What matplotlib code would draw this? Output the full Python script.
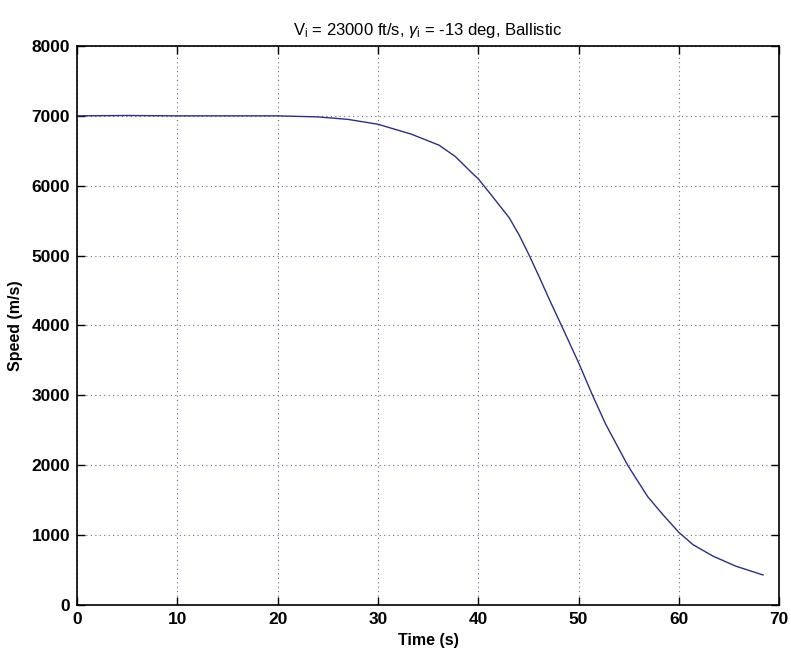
import matplotlib
matplotlib.use("Agg")
import matplotlib.pyplot as plt

plt.rcParams['font.family'] = ['Liberation Sans', 'DejaVu Sans']
plt.rcParams['mathtext.fontset'] = 'custom'
plt.rcParams['mathtext.rm'] = 'Liberation Sans'
plt.rcParams['mathtext.it'] = 'Liberation Sans:italic'

# speed vs time
time_s = [0, 5, 10, 15, 20, 24, 27, 30, 33.3, 36.1, 37.7, 39.4, 40, 41.4,
          43.1, 44.1, 45.1, 46.1, 47.1, 48.3, 50, 51.4, 52.7, 54.9, 56.9,
          58.4, 60, 61.4, 63.4, 65.7, 68.4]
speed = [7000, 7005, 7000, 7000, 7000, 6985, 6950, 6880, 6740, 6580, 6420,
         6180, 6100, 5850, 5540, 5290, 5000, 4690, 4370, 4000, 3470, 3000,
         2590, 2000, 1550, 1295, 1040, 865, 700, 555, 430]

xticks = [0, 10, 20, 30, 40, 50, 60, 70]
yticks = [0, 1000, 2000, 3000, 4000, 5000, 6000, 7000, 8000]

fig = plt.figure(figsize=(7.91, 6.54), dpi=100)
ax = fig.add_axes([0.0973, 0.0749, 0.8877, 0.8548])

ax.plot(time_s, speed, color="#2b2f85", lw=1.0)

ax.set_xlim(0, 70)
ax.set_ylim(0, 8000)
ax.set_xticks(xticks)
ax.set_yticks(yticks)
ax.tick_params(direction="in", top=True, right=True, length=6, width=1.0,
               labelsize=12.5, pad=5)
for lab in ax.get_xticklabels() + ax.get_yticklabels():
    lab.set_fontweight("bold")
for s in ax.spines.values():
    s.set_linewidth(1.2)

ax.grid(True, linestyle=(0, (1, 3)), color="#6a6a9a", lw=0.8)

ax.set_xlabel("Time (s)", fontsize=11.5, fontweight="bold", labelpad=4)
ax.set_ylabel("Speed (m/s)", fontsize=11.5, fontweight="bold", labelpad=6)
ax.set_title(r"V$_\mathrm{i}$ = 23000 ft/s, $\gamma_\mathrm{i}$ = -13 deg, Ballistic",
             fontsize=12, pad=8)

fig.savefig("out.png", dpi=100)
